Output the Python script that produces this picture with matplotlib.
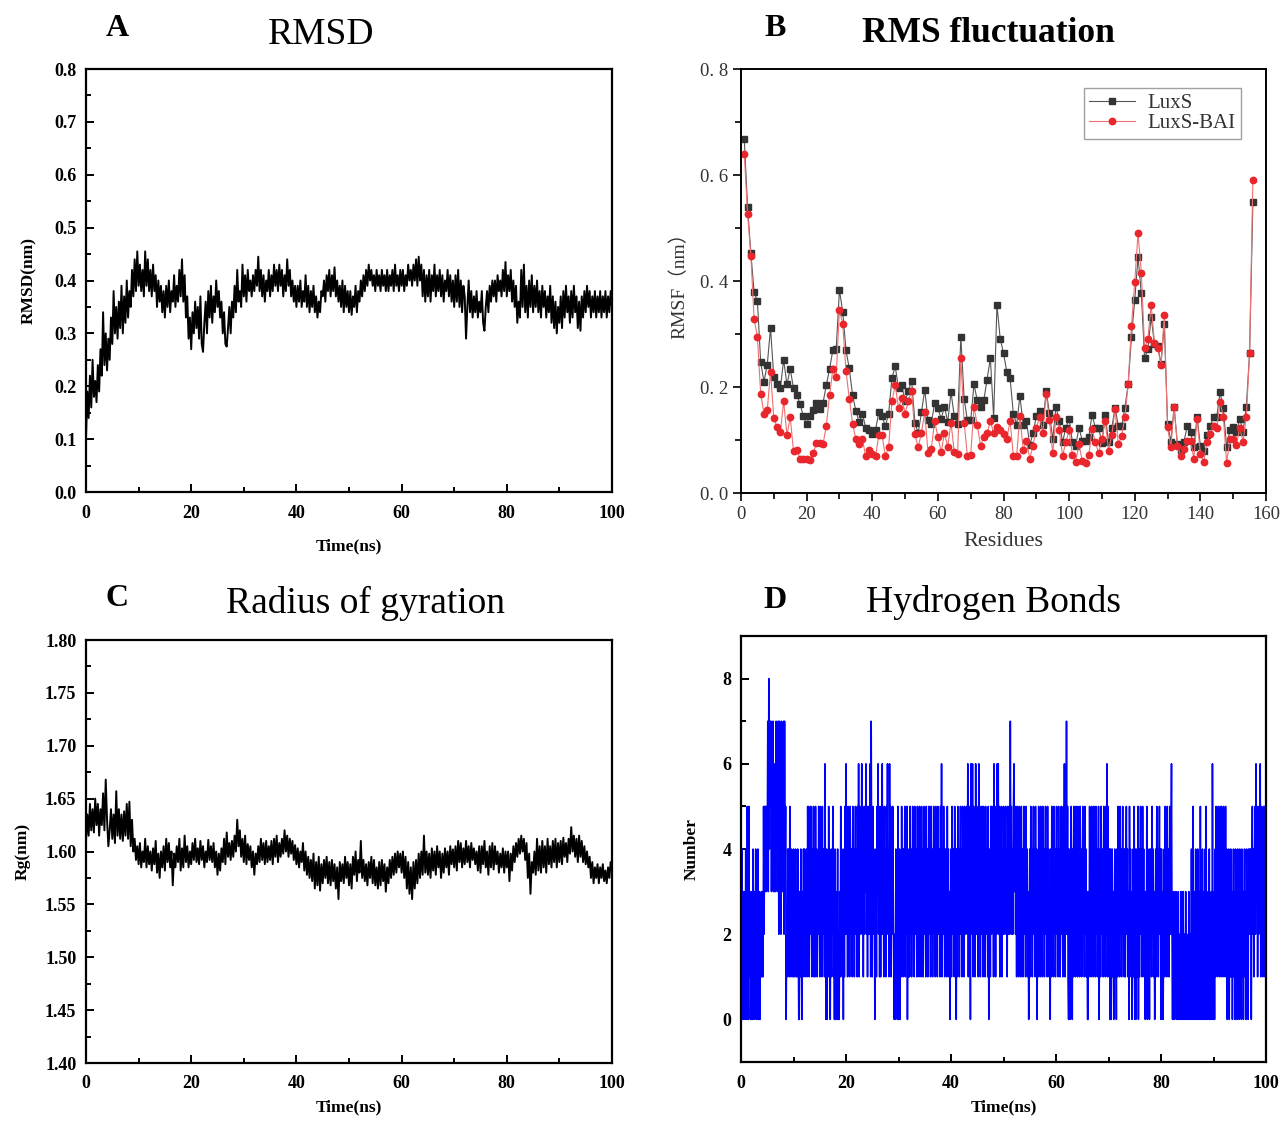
import numpy as np
import matplotlib
matplotlib.use('Agg')
import matplotlib.pyplot as plt
from matplotlib.ticker import MultipleLocator

plt.rcParams['font.family'] = ['Liberation Serif', 'Noto Sans CJK SC']

# ---------------- data ----------------
# A: backbone RMSD (nm), one value every 0.25 ns, 0..100 ns
rmsd_nm = [
    0.10, 0.19, 0.14, 0.22, 0.16, 0.25, 0.18, 0.21, 0.17, 0.24,
    0.19, 0.27, 0.22, 0.34, 0.24, 0.30, 0.23, 0.29, 0.25, 0.33,
    0.28, 0.38, 0.30, 0.35, 0.29, 0.36, 0.31, 0.39, 0.30, 0.37,
    0.32, 0.40, 0.33, 0.38, 0.35, 0.42, 0.37, 0.44, 0.38, 0.455,
    0.39, 0.43, 0.38, 0.42, 0.37, 0.455, 0.39, 0.44, 0.38, 0.42,
    0.37, 0.43, 0.38, 0.41, 0.35, 0.40, 0.36, 0.39, 0.34, 0.38,
    0.33, 0.39, 0.35, 0.40, 0.34, 0.38, 0.36, 0.41, 0.35, 0.39,
    0.36, 0.42, 0.37, 0.44, 0.36, 0.41, 0.33, 0.37, 0.29, 0.33,
    0.27, 0.34, 0.30, 0.36, 0.31, 0.35, 0.29, 0.37, 0.28, 0.265,
    0.32, 0.36, 0.30, 0.38, 0.33, 0.39, 0.32, 0.37, 0.34, 0.40,
    0.35, 0.38, 0.33, 0.36, 0.30, 0.34, 0.28, 0.275, 0.31, 0.35,
    0.30, 0.36, 0.33, 0.39, 0.34, 0.42, 0.36, 0.38, 0.35, 0.43,
    0.37, 0.41, 0.36, 0.42, 0.38, 0.40, 0.37, 0.41, 0.38, 0.42,
    0.39, 0.445, 0.38, 0.42, 0.37, 0.41, 0.36, 0.40, 0.38, 0.42,
    0.37, 0.41, 0.38, 0.43, 0.39, 0.42, 0.38, 0.43, 0.39, 0.42,
    0.37, 0.41, 0.38, 0.44, 0.39, 0.42, 0.37, 0.40, 0.36, 0.39,
    0.35, 0.39, 0.36, 0.40, 0.35, 0.38, 0.36, 0.41, 0.35, 0.39,
    0.34, 0.38, 0.35, 0.39, 0.34, 0.37, 0.33, 0.36, 0.34, 0.38,
    0.37, 0.40, 0.36, 0.41, 0.38, 0.42, 0.37, 0.41, 0.38, 0.425,
    0.37, 0.40, 0.36, 0.39, 0.35, 0.40, 0.34, 0.39, 0.35, 0.38,
    0.34, 0.38, 0.335, 0.37, 0.35, 0.39, 0.34, 0.38, 0.36, 0.40,
    0.37, 0.41, 0.38, 0.42, 0.39, 0.43, 0.40, 0.42, 0.39, 0.41,
    0.38, 0.42, 0.39, 0.41, 0.38, 0.42, 0.39, 0.41, 0.38, 0.42,
    0.38, 0.41, 0.39, 0.42, 0.38, 0.43, 0.39, 0.41, 0.38, 0.42,
    0.39, 0.42, 0.38, 0.41, 0.39, 0.43, 0.40, 0.42, 0.39, 0.43,
    0.40, 0.44, 0.39, 0.445, 0.40, 0.43, 0.37, 0.42, 0.36, 0.41,
    0.37, 0.42, 0.36, 0.41, 0.38, 0.43, 0.37, 0.41, 0.38, 0.42,
    0.37, 0.41, 0.36, 0.40, 0.38, 0.42, 0.37, 0.41, 0.36, 0.40,
    0.35, 0.41, 0.36, 0.42, 0.35, 0.40, 0.34, 0.39, 0.37, 0.29,
    0.35, 0.40, 0.34, 0.38, 0.33, 0.37, 0.34, 0.38, 0.33, 0.36,
    0.34, 0.38, 0.32, 0.305, 0.35, 0.38, 0.34, 0.39, 0.36, 0.40,
    0.37, 0.40, 0.36, 0.41, 0.38, 0.40, 0.37, 0.42, 0.38, 0.435,
    0.37, 0.41, 0.38, 0.42, 0.36, 0.40, 0.35, 0.39, 0.32, 0.36,
    0.33, 0.42, 0.35, 0.43, 0.34, 0.39, 0.33, 0.40, 0.35, 0.41,
    0.34, 0.39, 0.35, 0.40, 0.34, 0.38, 0.33, 0.39, 0.35, 0.38,
    0.33, 0.37, 0.34, 0.39, 0.32, 0.37, 0.31, 0.36, 0.30, 0.35,
    0.32, 0.37, 0.31, 0.38, 0.33, 0.39, 0.34, 0.37, 0.32, 0.38,
    0.33, 0.39, 0.34, 0.37, 0.31, 0.36, 0.305, 0.37, 0.33, 0.38,
    0.34, 0.39, 0.35, 0.38, 0.33, 0.37, 0.34, 0.38, 0.33, 0.37,
    0.34, 0.38, 0.33, 0.37, 0.34, 0.38, 0.33, 0.37, 0.34, 0.38,
    0.35]

# B: per-residue RMSF (nm), residues 1..156
rmsf_luxs = [
    0.667, 0.540, 0.453, 0.379, 0.362, 0.247, 0.210, 0.242, 0.311, 0.218,
    0.205, 0.198, 0.251, 0.205, 0.234, 0.198, 0.185, 0.168, 0.145, 0.131,
    0.146, 0.156, 0.170, 0.158, 0.170, 0.204, 0.234, 0.270, 0.271, 0.383,
    0.342, 0.269, 0.235, 0.185, 0.155, 0.134, 0.150, 0.123, 0.119, 0.111,
    0.119, 0.153, 0.146, 0.126, 0.150, 0.217, 0.239, 0.198, 0.204, 0.173,
    0.193, 0.212, 0.133, 0.113, 0.152, 0.195, 0.137, 0.131, 0.170, 0.160,
    0.140, 0.163, 0.134, 0.190, 0.145, 0.131, 0.295, 0.178, 0.137, 0.137,
    0.205, 0.175, 0.163, 0.175, 0.214, 0.254, 0.142, 0.355, 0.291, 0.264,
    0.229, 0.217, 0.150, 0.129, 0.183, 0.129, 0.136, 0.090, 0.113, 0.145,
    0.155, 0.129, 0.193, 0.151, 0.101, 0.163, 0.136, 0.096, 0.123, 0.140,
    0.096, 0.089, 0.123, 0.099, 0.099, 0.106, 0.148, 0.123, 0.123, 0.094,
    0.148, 0.096, 0.123, 0.161, 0.126, 0.126, 0.161, 0.205, 0.295, 0.364,
    0.445, 0.377, 0.254, 0.271, 0.332, 0.281, 0.278, 0.244, 0.318, 0.131,
    0.097, 0.162, 0.092, 0.082, 0.097, 0.126, 0.116, 0.086, 0.144, 0.089,
    0.079, 0.109, 0.126, 0.143, 0.144, 0.190, 0.160, 0.086, 0.119, 0.124,
    0.115, 0.140, 0.116, 0.162, 0.265, 0.549]
rmsf_luxs_bai = [
    0.640, 0.527, 0.448, 0.328, 0.295, 0.187, 0.150, 0.156, 0.229, 0.141,
    0.124, 0.115, 0.173, 0.109, 0.143, 0.079, 0.082, 0.065, 0.065, 0.064,
    0.062, 0.075, 0.094, 0.094, 0.092, 0.127, 0.185, 0.234, 0.219, 0.346,
    0.319, 0.230, 0.178, 0.131, 0.102, 0.092, 0.102, 0.069, 0.081, 0.074,
    0.069, 0.109, 0.109, 0.070, 0.087, 0.173, 0.204, 0.160, 0.180, 0.150,
    0.173, 0.193, 0.111, 0.086, 0.114, 0.153, 0.075, 0.083, 0.136, 0.106,
    0.077, 0.113, 0.087, 0.133, 0.077, 0.074, 0.254, 0.133, 0.070, 0.072,
    0.162, 0.129, 0.089, 0.106, 0.113, 0.136, 0.113, 0.125, 0.118, 0.111,
    0.102, 0.136, 0.070, 0.070, 0.146, 0.081, 0.098, 0.065, 0.089, 0.123,
    0.143, 0.114, 0.187, 0.137, 0.075, 0.144, 0.119, 0.070, 0.096, 0.118,
    0.072, 0.059, 0.092, 0.061, 0.057, 0.071, 0.121, 0.096, 0.075, 0.102,
    0.136, 0.080, 0.109, 0.158, 0.092, 0.108, 0.144, 0.206, 0.315, 0.399,
    0.490, 0.416, 0.274, 0.291, 0.355, 0.283, 0.274, 0.241, 0.335, 0.124,
    0.086, 0.163, 0.089, 0.070, 0.083, 0.099, 0.099, 0.065, 0.140, 0.074,
    0.059, 0.096, 0.111, 0.126, 0.123, 0.171, 0.144, 0.057, 0.101, 0.101,
    0.090, 0.123, 0.097, 0.144, 0.264, 0.591]

# C: radius of gyration (nm), one value every 0.25 ns, 0..100 ns
rg_nm = [
    1.610, 1.635, 1.615, 1.645, 1.620, 1.640, 1.618, 1.650, 1.625, 1.645,
    1.615, 1.640, 1.625, 1.655, 1.620, 1.668, 1.630, 1.605, 1.620, 1.640,
    1.612, 1.635, 1.608, 1.657, 1.615, 1.640, 1.612, 1.635, 1.610, 1.638,
    1.615, 1.645, 1.612, 1.647, 1.605, 1.630, 1.600, 1.612, 1.592, 1.605,
    1.588, 1.608, 1.585, 1.600, 1.590, 1.612, 1.585, 1.605, 1.588, 1.600,
    1.582, 1.603, 1.588, 1.610, 1.580, 1.598, 1.575, 1.600, 1.585, 1.605,
    1.582, 1.612, 1.590, 1.608, 1.585, 1.600, 1.568, 1.598, 1.585, 1.605,
    1.590, 1.612, 1.582, 1.603, 1.585, 1.615, 1.590, 1.605, 1.585, 1.600,
    1.588, 1.608, 1.592, 1.612, 1.590, 1.603, 1.588, 1.610, 1.592, 1.605,
    1.585, 1.600, 1.590, 1.611, 1.592, 1.605, 1.590, 1.608, 1.585, 1.600,
    1.578, 1.598, 1.582, 1.603, 1.590, 1.612, 1.588, 1.618, 1.595, 1.608,
    1.592, 1.610, 1.595, 1.615, 1.600, 1.630, 1.605, 1.620, 1.595, 1.612,
    1.590, 1.615, 1.588, 1.607, 1.592, 1.605, 1.585, 1.600, 1.578, 1.598,
    1.588, 1.605, 1.590, 1.612, 1.592, 1.608, 1.588, 1.610, 1.590, 1.605,
    1.592, 1.610, 1.588, 1.612, 1.595, 1.615, 1.590, 1.608, 1.595, 1.612,
    1.598, 1.620, 1.600, 1.615, 1.595, 1.612, 1.598, 1.610, 1.592, 1.606,
    1.588, 1.603, 1.585, 1.600, 1.590, 1.608, 1.582, 1.600, 1.578, 1.595,
    1.575, 1.592, 1.572, 1.598, 1.565, 1.590, 1.568, 1.595, 1.563, 1.588,
    1.570, 1.592, 1.575, 1.595, 1.570, 1.590, 1.568, 1.592, 1.572, 1.588,
    1.565, 1.585, 1.555, 1.590, 1.572, 1.588, 1.570, 1.595, 1.575, 1.590,
    1.568, 1.588, 1.565, 1.595, 1.578, 1.600, 1.572, 1.592, 1.580, 1.610,
    1.575, 1.592, 1.572, 1.588, 1.568, 1.590, 1.575, 1.595, 1.570, 1.592,
    1.568, 1.585, 1.565, 1.590, 1.568, 1.592, 1.572, 1.588, 1.562, 1.585,
    1.570, 1.592, 1.575, 1.595, 1.578, 1.598, 1.580, 1.600, 1.585, 1.598,
    1.580, 1.600, 1.575, 1.595, 1.565, 1.590, 1.560, 1.585, 1.555, 1.590,
    1.565, 1.592, 1.570, 1.598, 1.575, 1.600, 1.578, 1.615, 1.580, 1.600,
    1.578, 1.598, 1.575, 1.603, 1.582, 1.600, 1.578, 1.605, 1.585, 1.600,
    1.575, 1.598, 1.580, 1.603, 1.585, 1.600, 1.578, 1.605, 1.588, 1.602,
    1.585, 1.605, 1.582, 1.610, 1.590, 1.608, 1.585, 1.603, 1.588, 1.610,
    1.590, 1.605, 1.585, 1.608, 1.592, 1.603, 1.588, 1.600, 1.582, 1.605,
    1.580, 1.605, 1.588, 1.610, 1.585, 1.600, 1.578, 1.605, 1.585, 1.608,
    1.583, 1.605, 1.588, 1.600, 1.580, 1.598, 1.585, 1.603, 1.580, 1.600,
    1.585, 1.600, 1.572, 1.598, 1.582, 1.605, 1.590, 1.608, 1.595, 1.612,
    1.598, 1.615, 1.600, 1.612, 1.592, 1.608, 1.575, 1.598, 1.560, 1.590,
    1.580, 1.600, 1.578, 1.612, 1.582, 1.605, 1.580, 1.610, 1.585, 1.605,
    1.580, 1.612, 1.588, 1.605, 1.585, 1.610, 1.590, 1.612, 1.585, 1.608,
    1.590, 1.610, 1.588, 1.613, 1.595, 1.608, 1.590, 1.612, 1.598, 1.623,
    1.600, 1.615, 1.595, 1.612, 1.590, 1.615, 1.595, 1.610, 1.590, 1.605,
    1.588, 1.600, 1.585, 1.595, 1.575, 1.590, 1.570, 1.585, 1.575, 1.588,
    1.570, 1.585, 1.575, 1.588, 1.572, 1.582, 1.570, 1.585, 1.575, 1.590,
    1.585]

# D: number of hydrogen bonds, ten samples (0.1 ns apart) per nanosecond
hbond_per_ns = [
    "3040203104", "1052051302", "0304103140", "2041030213", "1315253535",
    "4738475736", "4736353746", "3727462736", "3727350214", "2415314231",
    "4132413142", "0031420314", "2413241525", "1425314251", "4152413253",
    "1524152431", "6204031524", "0314251304", "0301402031", "5241304152",
    "6241524153", "2415241352", "4152615243", "6251425362", "4152526173",
    "1524302415", "3625141526", "2415241536", "2416251425", "3102041305",
    "0140315241", "4251425031", "4152413524", "1524315241", "5241524135",
    "2415241352", "4152413524", "1524153241", "5261425314", "2415241302",
    "4153241524", "0415241352", "4152415243", "5261425064", "2615241625",
    "2416251425", "3152415243", "1502415253", "4162415263", "6251425142",
    "5243524152", "3527352425", "6352415241", "5241524135", "2415241302",
    "4152413524", "1524031524", "1524152413", "5241524130", "4152415241",
    "3524152413", "5241526142", "7251042015", "3041524152", "4152415241",
    "3524152413", "0031524152", "4152415241", "3502415243", "1524152615",
    "3140402413", "0241304152", "4152413524", "1413524130", "5241302415",
    "0402415041", "3524152413", "0315041304", "2415241302", "4152413524",
    "0413024152", "4152413524", "6203020313", "0203102030", "2031020302",
    "0103020140", "2501304020", "4103050204", "1030405020", "3040203062",
    "0304152415", "2415251425", "1425140314", "0314130241", "3041304130",
    "4130413024", "1304130424", "2403524135", "2635142536", "1524152514",
    "1"]
hbond_count = [int(c) for s in hbond_per_ns for c in s]

rmsd_time = np.linspace(0, 100, len(rmsd_nm))
rg_time = np.linspace(0, 100, len(rg_nm))
hbond_time = np.linspace(0, 100, len(hbond_count))
residues = np.arange(1, len(rmsf_luxs) + 1)

rmsf_yticks = [0.0, 0.2, 0.4, 0.6, 0.8]
rmsf_yticklabels = ['0. 0', '0. 2', '0. 4', '0. 6', '0. 8']

# ---------------- figure ----------------
W, H = 1282, 1121
fig = plt.figure(figsize=(W / 100, H / 100), dpi=100)


def box(l, t, r, b):
    return [l / W, 1 - b / H, (r - l) / W, (b - t) / H]


def style_bold_axes(ax):
    for s in ax.spines.values():
        s.set_linewidth(1.6)
    ax.tick_params(which='both', direction='in', top=False, right=False,
                   width=1.4, labelsize=13)
    ax.tick_params(axis='x', pad=9)
    ax.tick_params(axis='y', pad=7)
    ax.tick_params(which='major', length=6)
    ax.tick_params(which='minor', length=3.5)
    for lab in ax.get_xticklabels() + ax.get_yticklabels():
        lab.set_fontweight('bold')


lab_kw = dict(fontsize=12.5, fontweight='bold')

# A ----------------------------------------------------------
axA = fig.add_axes(box(86, 69, 612, 492))
axA.plot(rmsd_time, rmsd_nm, color='black', lw=1.4)
axA.set_xlim(0, 100)
axA.set_ylim(0, 0.8)
axA.xaxis.set_major_locator(MultipleLocator(20))
axA.xaxis.set_minor_locator(MultipleLocator(10))
axA.yaxis.set_major_locator(MultipleLocator(0.1))
axA.yaxis.set_minor_locator(MultipleLocator(0.05))
axA.set_xlabel('Time(ns)', labelpad=12, **lab_kw)
axA.set_ylabel('RMSD(nm)', labelpad=12, **lab_kw)
style_bold_axes(axA)

# B ----------------------------------------------------------
axB = fig.add_axes(box(741, 69, 1266, 493))
axB.plot(residues, rmsf_luxs, color='#555555', lw=0.8, marker='s',
         ms=4.2, mfc='#333333', mec='#333333', label='LuxS')
axB.plot(residues, rmsf_luxs_bai, color='#f07070', lw=0.8, marker='o',
         ms=4.6, mfc='#e8262b', mec='#e8262b', label='LuxS-BAI')
axB.set_xlim(0, 160)
axB.set_ylim(0, 0.8)
axB.xaxis.set_major_locator(MultipleLocator(20))
axB.xaxis.set_minor_locator(MultipleLocator(10))
axB.set_yticks(rmsf_yticks)
axB.set_yticklabels(rmsf_yticklabels)
axB.yaxis.set_minor_locator(MultipleLocator(0.1))
for s in axB.spines.values():
    s.set_linewidth(1.4)
axB.tick_params(which='both', direction='out', top=False, right=False,
                width=1.2, labelsize=13.5, labelcolor='#333333')
axB.tick_params(which='major', length=6)
axB.tick_params(which='minor', length=4)
axB.set_xlabel('Residues', fontsize=16, color='#333333', labelpad=6)
axB.set_ylabel('RMSF（nm）', fontsize=14, color='#333333', labelpad=8)
leg = axB.legend(loc='upper right', bbox_to_anchor=(0.952, 0.955),
                 borderaxespad=0, fancybox=False, edgecolor='#888888',
                 fontsize=15, handlelength=2.2, handletextpad=0.6,
                 borderpad=0.25, labelspacing=0.05)
leg.get_frame().set_linewidth(1.0)
for t in leg.get_texts():
    t.set_color('#333333')

# C ----------------------------------------------------------
axC = fig.add_axes(box(86, 640, 612, 1063))
axC.plot(rg_time, rg_nm, color='black', lw=1.4)
axC.set_xlim(0, 100)
axC.set_ylim(1.40, 1.80)
axC.xaxis.set_major_locator(MultipleLocator(20))
axC.xaxis.set_minor_locator(MultipleLocator(10))
axC.yaxis.set_major_locator(MultipleLocator(0.05))
axC.yaxis.set_minor_locator(MultipleLocator(0.025))
axC.yaxis.set_major_formatter(plt.FormatStrFormatter('%.2f'))
axC.set_xlabel('Time(ns)', labelpad=5, **lab_kw)
axC.set_ylabel('Rg(nm)', labelpad=10, **lab_kw)
style_bold_axes(axC)

# D ----------------------------------------------------------
axD = fig.add_axes(box(741, 636, 1266, 1062))
axD.plot(hbond_time, hbond_count, color='#0000ff', lw=1.15)
axD.set_xlim(0, 100)
axD.set_ylim(-1, 9)
axD.xaxis.set_major_locator(MultipleLocator(20))
axD.xaxis.set_minor_locator(MultipleLocator(10))
axD.yaxis.set_major_locator(MultipleLocator(2))
axD.yaxis.set_minor_locator(MultipleLocator(1))
axD.set_xlabel('Time(ns)', labelpad=6, **lab_kw)
axD.set_ylabel('Number', labelpad=16, **lab_kw)
style_bold_axes(axD)

# panel letters and titles -----------------------------------
def ftext(x, y, s, **kw):
    fig.text(x / W, 1 - y / H, s, ha='center', va='center', **kw)


ftext(117, 28, 'A', fontsize=23, fontweight='bold')
ftext(321, 35, 'RMSD', fontsize=27)
ftext(775, 28, 'B', fontsize=23, fontweight='bold')
ftext(988, 33, 'RMS fluctuation', fontsize=25.5, fontweight='bold')
ftext(117, 599, 'C', fontsize=23, fontweight='bold')
ftext(365, 603, 'Radius of gyration', fontsize=27)
ftext(775, 600, 'D', fontsize=23, fontweight='bold')
ftext(994, 603, 'Hydrogen Bonds', fontsize=27)

fig.savefig('out.png', dpi=100)
